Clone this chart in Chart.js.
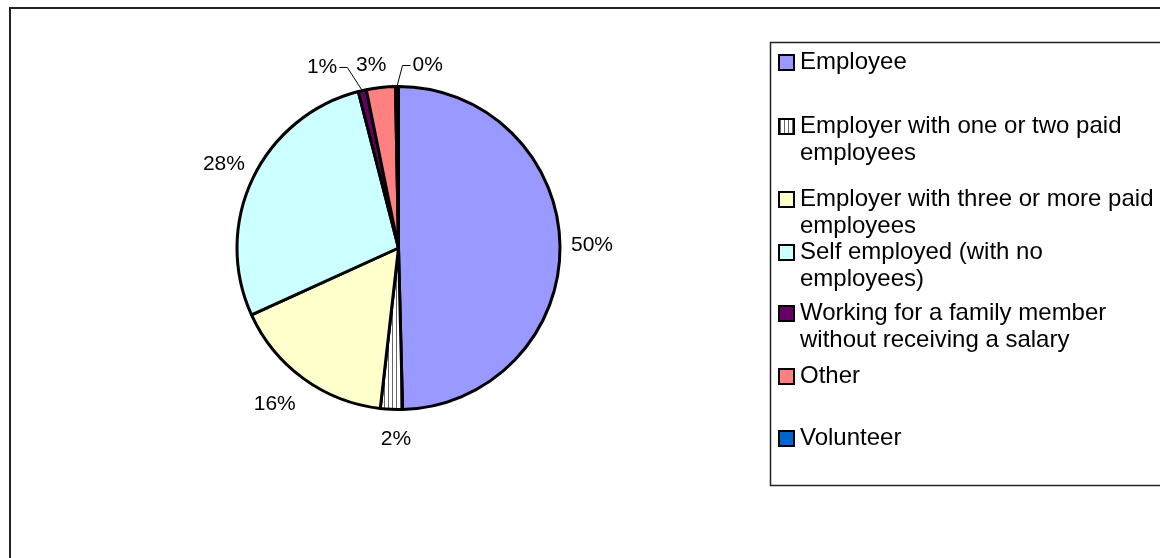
<!DOCTYPE html>
<html>
<head>
<meta charset="utf-8">
<script src="https://cdn.jsdelivr.net/npm/chart.js@4.4.0/dist/chart.umd.min.js"></script>
<style>
  html, body { margin: 0; padding: 0; background: #fff; }
  #wrap { position: relative; width: 1160px; height: 558px; }
</style>
</head>
<body>
<div id="wrap"><canvas id="grafico" width="1160" height="558"></canvas></div>
<script>
// categorias e valores (percentual de respondentes)
const categorias = [
  'Employee',
  'Employer with one or two paid employees',
  'Employer with three or more paid employees',
  'Self employed (with no employees)',
  'Working for a family member without receiving a salary',
  'Other',
  'Volunteer'
];
const legendaLinhas = [
  ['Employee'],
  ['Employer with one or two paid', 'employees'],
  ['Employer with three or more paid', 'employees'],
  ['Self employed (with no', 'employees)'],
  ['Working for a family member', 'without receiving a salary'],
  ['Other'],
  ['Volunteer']
];
const valores = [49.6, 2.2, 16.4, 27.8, 0.8, 2.9, 0.3];
const cores = ['#9999FF', 'listras', '#FFFFCC', '#CCFFFF', '#660066', '#FF8080', '#0066CC'];

const canvas = document.getElementById('grafico');
const ctx = canvas.getContext('2d');

// hachura vertical para o segundo setor
function listrado() {
  const c = document.createElement('canvas');
  c.width = 4; c.height = 4;
  const g = c.getContext('2d');
  g.fillStyle = '#fff';
  g.fillRect(0, 0, 4, 4);
  g.fillStyle = '#666';
  g.fillRect(0, 0, 1, 4);
  return ctx.createPattern(c, 'repeat');
}
const padrao = listrado();
const fundo = cores.map(c => c === 'listras' ? padrao : c);

const total = valores.reduce((a, b) => a + b, 0);
const fonte = '"Liberation Sans", Arial, sans-serif';

// rotulos de porcentagem fora da pizza; alguns deslocados com linha guia
const desvios = { 1: [6, -2, false], 2: [-10, 0, false], 4: [-33, 8, true], 5: [-6, 10, false], 6: [31, 11, true] };
const rotulos = {
  id: 'rotulos',
  afterDatasetsDraw(chart) {
    const c = chart.ctx;
    const meta = chart.getDatasetMeta(0);
    c.save();
    c.font = '21px ' + fonte;
    c.fillStyle = '#000';
    c.textAlign = 'center';
    c.textBaseline = 'middle';
    meta.data.forEach((arc, i) => {
      const p = arc.getProps(['x', 'y', 'startAngle', 'endAngle', 'outerRadius'], true);
      const meio = (p.startAngle + p.endAngle) / 2;
      let lx = p.x + Math.cos(meio) * (p.outerRadius + 32);
      let ly = p.y + Math.sin(meio) * (p.outerRadius + 32);
      const texto = Math.round(valores[i] / total * 100) + '%';
      const d = desvios[i];
      if (d) { lx += d[0]; ly += d[1]; }
      c.fillText(texto, lx, ly);
      if (d && d[2]) {
        const w = c.measureText(texto).width;
        const ax = p.x + Math.cos(meio) * p.outerRadius;
        const ay = p.y + Math.sin(meio) * p.outerRadius;
        const lado = lx < ax ? 1 : -1;
        const x0 = lx + lado * (w / 2 + 2);
        c.beginPath();
        c.strokeStyle = '#000';
        c.lineWidth = 1;
        c.moveTo(x0, ly);
        c.lineTo(x0 + lado * 8, ly);
        c.lineTo(ax, ay);
        c.stroke();
      }
    });
    c.restore();
  }
};

// legenda em caixa a direita
const linhasY = [62, 126, 199, 252, 313, 376, 438];
const legendaCaixa = {
  id: 'legendaCaixa',
  afterDraw(chart) {
    const c = chart.ctx;
    c.save();
    c.strokeStyle = '#222';
    c.lineWidth = 1.5;
    c.strokeRect(770.5, 42.5, 500, 443);
    c.font = '24px ' + fonte;
    c.textBaseline = 'middle';
    c.textAlign = 'left';
    legendaLinhas.forEach((linhas, i) => {
      const y = linhasY[i];
      c.fillStyle = fundo[i];
      c.fillRect(779, y - 7, 15, 15);
      c.lineWidth = 2;
      c.strokeStyle = '#000';
      c.strokeRect(779, y - 7, 15, 15);
      c.fillStyle = '#000';
      linhas.forEach((t, k) => c.fillText(t, 800, y + k * 27));
    });
    c.restore();
  }
};

// moldura da area do grafico
const moldura = {
  id: 'moldura',
  afterDraw(chart) {
    const c = chart.ctx;
    c.save();
    c.strokeStyle = '#222';
    c.lineWidth = 2;
    c.strokeRect(10, 8, 1200, 600);
    c.restore();
  }
};

new Chart(ctx, {
  type: 'pie',
  data: {
    labels: categorias,
    datasets: [{
      data: valores,
      backgroundColor: fundo,
      borderColor: '#000',
      borderWidth: 3
    }]
  },
  options: {
    responsive: false,
    animation: false,
    layout: { padding: { left: 235, right: 598, top: 85, bottom: 147 } },
    plugins: {
      legend: { display: false },
      tooltip: { enabled: false }
    }
  },
  plugins: [rotulos, legendaCaixa, moldura]
});
</script>
</body>
</html>
